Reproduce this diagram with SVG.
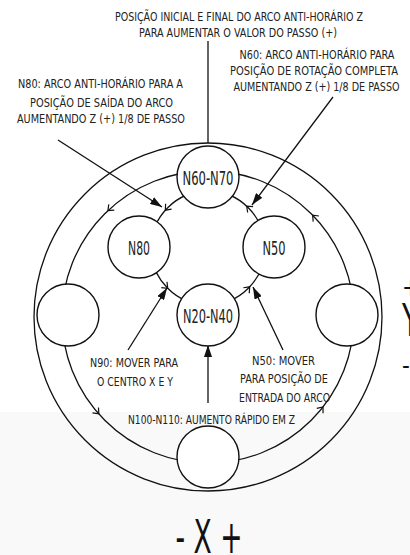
<svg xmlns="http://www.w3.org/2000/svg" width="410" height="555" viewBox="0 0 410 555">
<style>
.ln{fill:none;stroke:#111;stroke-width:1.3}
.nd{fill:#fff;stroke:#111;stroke-width:1.4}
.t{font-family:"DejaVu Sans Condensed","DejaVu Sans",sans-serif;font-size:13px;fill:#222;text-anchor:middle}
.nl{font-size:19.5px;fill:#222}
.ax{font-family:"DejaVu Sans Condensed","DejaVu Sans",sans-serif;fill:#111}
</style>
<defs>
<marker id="ah" markerWidth="12" markerHeight="8" refX="12" refY="4" orient="auto" markerUnits="userSpaceOnUse"><path d="M0,0 L12,4 L0,8 z" fill="#111"/></marker>
<path id="chev" d="M-5,-4 L0,0 L-5,4" fill="none" stroke="#111" stroke-width="1.2"/>
</defs>
<rect width="410" height="555" fill="#fff"/>
<rect y="412" width="410" height="143" fill="#f9f9f9"/>
<g id="connectors">
<circle class="ln" cx="208" cy="317" r="174"/>
<circle class="ln" cx="208" cy="317" r="146"/>
<circle class="ln" cx="208" cy="248" r="57"/>
<use href="#chev" transform="translate(165.3,210.2) rotate(131.5)"/>
<use href="#chev" transform="translate(246.7,206.2) rotate(-137.2)"/>
<use href="#chev" transform="translate(167.7,288.3) rotate(45)"/>
<use href="#chev" transform="translate(249.7,286.8) rotate(-47.1)"/>
<use href="#chev" transform="translate(107.9,210.7) rotate(136.7)"/>
<use href="#chev" transform="translate(312.6,215.2) rotate(-134.2)"/>
<use href="#chev" transform="translate(98.8,413.9) rotate(48.4)"/>
<use href="#chev" transform="translate(323,406.9) rotate(-52)"/>
<line class="ln" x1="208" y1="41" x2="208" y2="143"/>
<line class="ln" x1="58" y1="140" x2="162" y2="207" marker-end="url(#ah)"/>
<line class="ln" x1="333" y1="97" x2="252" y2="205" marker-end="url(#ah)"/>
<line class="ln" x1="128" y1="350" x2="167" y2="288" marker-end="url(#ah)"/>
<line class="ln" x1="283" y1="350" x2="253" y2="287" marker-end="url(#ah)"/>
<line class="ln" x1="208" y1="403" x2="208" y2="345" marker-end="url(#ah)"/>
</g>
<g id="n60n70"><circle class="nd" cx="208" cy="177" r="31"/><text class="t nl" x="208" y="185" textLength="51" lengthAdjust="spacingAndGlyphs">N60-N70</text></g>
<g id="n80"><circle class="nd" cx="139" cy="247" r="31"/><text class="t nl" x="139" y="255" textLength="22" lengthAdjust="spacingAndGlyphs">N80</text></g>
<g id="n50"><circle class="nd" cx="274" cy="247" r="31"/><text class="t nl" x="274" y="255" textLength="23" lengthAdjust="spacingAndGlyphs">N50</text></g>
<g id="n20n40"><circle class="nd" cx="208" cy="315" r="31"/><text class="t nl" x="208" y="323" textLength="50" lengthAdjust="spacingAndGlyphs">N20-N40</text></g>
<g id="left"><circle class="nd" cx="68" cy="315" r="31"/></g>
<g id="right"><circle class="nd" cx="347" cy="315" r="31"/></g>
<g id="bottom"><circle class="nd" cx="208" cy="457" r="31"/></g>
<g id="labels">
<text class="t" x="239" y="21" textLength="248" lengthAdjust="spacingAndGlyphs">POSIÇÃO INICIAL E FINAL DO ARCO ANTI-HORÁRIO Z</text>
<text class="t" x="238" y="36.5" textLength="198" lengthAdjust="spacingAndGlyphs">PARA AUMENTAR O VALOR DO PASSO (+)</text>
<text class="t" x="317" y="59.3" textLength="155" lengthAdjust="spacingAndGlyphs">N60: ARCO ANTI-HORÁRIO PARA</text>
<text class="t" x="314" y="75" textLength="168" lengthAdjust="spacingAndGlyphs">POSIÇÃO DE ROTAÇÃO COMPLETA</text>
<text class="t" x="316.5" y="90.7" textLength="166" lengthAdjust="spacingAndGlyphs">AUMENTANDO Z (+) 1/8  DE PASSO</text>
<text class="t" x="100.5" y="88.3" textLength="165" lengthAdjust="spacingAndGlyphs">N80: ARCO ANTI-HORÁRIO PARA A</text>
<text class="t" x="101.5" y="106.7" textLength="143" lengthAdjust="spacingAndGlyphs">POSIÇÃO DE SAÍDA DO ARCO</text>
<text class="t" x="101" y="123.3" textLength="168" lengthAdjust="spacingAndGlyphs">AUMENTANDO Z (+) 1/8 DE PASSO</text>
<text class="t" x="134" y="367" textLength="88" lengthAdjust="spacingAndGlyphs">N90: MOVER PARA</text>
<text class="t" x="135" y="386" textLength="76" lengthAdjust="spacingAndGlyphs">O CENTRO X E Y</text>
<text class="t" x="283.5" y="365" textLength="63" lengthAdjust="spacingAndGlyphs">N50:  MOVER</text>
<text class="t" x="284" y="383" textLength="88" lengthAdjust="spacingAndGlyphs">PARA POSIÇÃO DE</text>
<text class="t" x="284.5" y="402" textLength="91" lengthAdjust="spacingAndGlyphs">ENTRADA DO ARCO</text>
<text class="t" x="211.5" y="424" textLength="167" lengthAdjust="spacingAndGlyphs">N100-N110: AUMENTO RÁPIDO EM Z</text>
</g>
<g id="axes">
<text class="ax" x="209" y="553" font-size="46" text-anchor="middle" textLength="67" lengthAdjust="spacingAndGlyphs">- X +</text>
<text class="ax" x="402" y="296" font-size="24">+</text>
<text class="ax" x="402" y="336" font-size="44" textLength="17" lengthAdjust="spacingAndGlyphs">Y</text>
<text class="ax" x="402" y="374" font-size="24">-</text>
</g>
</svg>
